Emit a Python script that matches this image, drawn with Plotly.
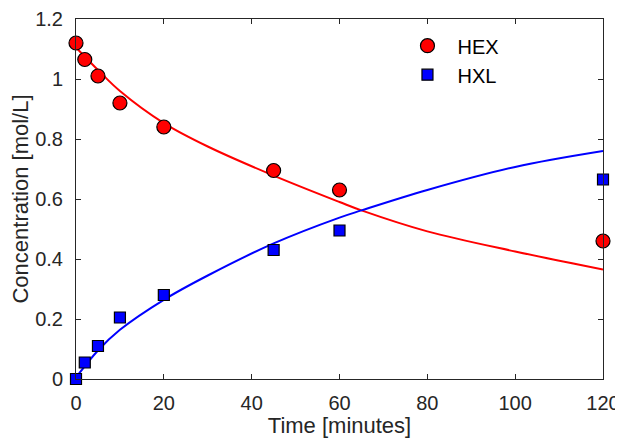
import plotly.graph_objects as go

# Measured data
t_data = [0, 2, 5, 10, 20, 45, 60, 120]
hex_data = [1.12, 1.065, 1.01, 0.92, 0.84, 0.695, 0.63, 0.46]
hxl_data = [0.0, 0.055, 0.11, 0.205, 0.28, 0.43, 0.495, 0.665]

# Fitted model curves
t_fit = [0, 5, 10, 20, 30, 45, 60, 65, 80, 100, 120]
hex_fit = [1.105, 1.03, 0.96, 0.853, 0.775, 0.678, 0.59, 0.562, 0.492, 0.425, 0.365]
hxl_fit = [0.005, 0.095, 0.164, 0.264, 0.345, 0.452, 0.538, 0.562, 0.63, 0.707, 0.76]

x_ticks = [0, 20, 40, 60, 80, 100, 120]
y_ticks = [0, 0.2, 0.4, 0.6, 0.8, 1.0, 1.2]
y_ticklabels = ["0", "0.2", "0.4", "0.6", "0.8", "1", "1.2"]

FONT = "Liberation Sans"
DARK = "#262626"

fig = go.Figure()
fig.add_trace(go.Scatter(x=t_fit, y=hex_fit, mode="lines", line=dict(color="#ff0000", width=2, shape="spline"),
                         showlegend=False, hoverinfo="skip", cliponaxis=False))
fig.add_trace(go.Scatter(x=t_fit, y=hxl_fit, mode="lines", line=dict(color="#0000ff", width=2, shape="spline"),
                         showlegend=False, hoverinfo="skip", cliponaxis=False))
fig.add_trace(go.Scatter(x=t_data, y=hex_data, mode="markers", name="HEX",
                         marker=dict(symbol="circle", size=14, color="#ff0000", line=dict(color="black", width=1.2)),
                         cliponaxis=False))
fig.add_trace(go.Scatter(x=t_data, y=hxl_data, mode="markers", name="HXL",
                         marker=dict(symbol="square", size=11, color="#0000ff", line=dict(color="black", width=1.2)),
                         cliponaxis=False))

axis_common = dict(showline=True, linecolor=DARK, linewidth=1, mirror="ticks", ticks="inside",
                   ticklen=5, tickcolor=DARK, tickwidth=1, showgrid=False, zeroline=False,
                   automargin=False,
                   tickfont=dict(family=FONT, size=20, color=DARK))

fig.update_xaxes(range=[0, 120], tickvals=x_ticks, ticktext=[str(v) for v in x_ticks],
                 ticklabelstandoff=6,
                 title=dict(text="Time [minutes]", font=dict(family=FONT, size=22, color=DARK)),
                 **axis_common)
fig.update_yaxes(range=[0, 1.2], tickvals=y_ticks, ticktext=y_ticklabels,
                 ticklabelstandoff=8,
                 title=dict(text="Concentration [mol/L]", font=dict(family=FONT, size=22, color=DARK)),
                 **axis_common)

# page body has an 8px default margin, so the figure is sized/offset to compensate
fig.update_layout(
    width=615, height=430,
    margin=dict(l=68, r=20, t=11, b=59),
    paper_bgcolor="white", plot_bgcolor="white",
    font=dict(family=FONT, color=DARK),
    legend=dict(x=0.61, y=0.98, xanchor="left", yanchor="top", bgcolor="rgba(0,0,0,0)",
                font=dict(family=FONT, size=20, color="black"), itemwidth=50),
)

fig.write_html("out.html")
